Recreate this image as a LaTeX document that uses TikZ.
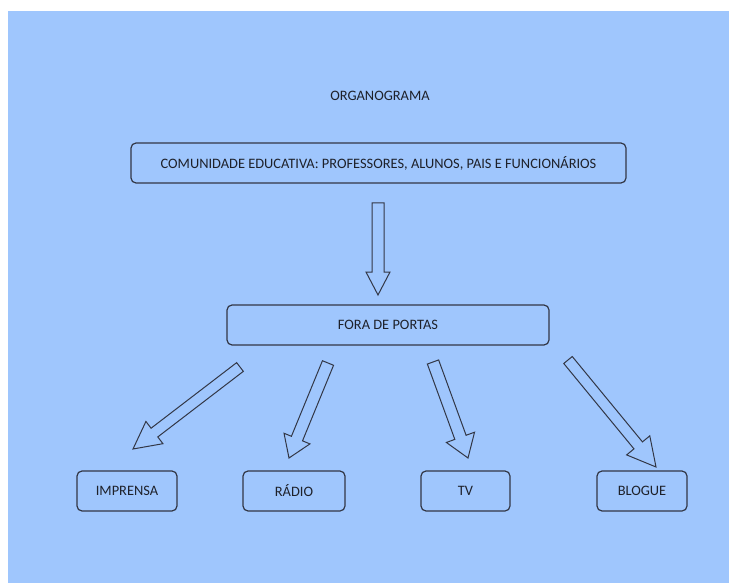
\documentclass[tikz,border=0pt]{standalone}
\usepackage{fontspec}
\setmainfont{Carlito}
\usetikzlibrary{calc}
\definecolor{bg}{RGB}{159,198,253}
\definecolor{ink}{RGB}{50,55,70}
\definecolor{txt}{RGB}{30,33,42}
\tikzset{
  x=1pt,y=-1pt,
  lbl/.style={font=\fontsize{14.4}{16}\selectfont,text=txt},
  box/.style={lbl,draw=ink,line width=1.2pt,rounded corners=5pt,inner sep=0pt},
  blockarrow/.style={draw=ink,line width=1pt,line join=miter}
}
% #1 tail, #2 tip, #3 shaft half-width, #4 head half-width, #5 head length (in pt)
\newcommand{\hollowarrow}[5]{%
  \coordinate (nk) at ($(#2)!#5pt!(#1)$);
  \draw[blockarrow] ($(#1)!#3pt!90:(#2)$) -- ($(nk)!#3pt!90:(#2)$) -- ($(nk)!#4pt!90:(#2)$)
    -- (#2) -- ($(nk)!#4pt!-90:(#2)$) -- ($(nk)!#3pt!-90:(#2)$) -- ($(#1)!#3pt!-90:(#2)$) -- cycle;
}
\begin{document}
\begin{tikzpicture}
\useasboundingbox (0,0) rectangle (729,583);
\fill[white] (0,0) rectangle (729,583);
\fill[bg] (8,11) rectangle (729,583);

\node[lbl] (title) at (380,96) {ORGANOGRAMA};

\node[box,minimum width=495pt,minimum height=40pt] (comunidade) at (378.5,163)
  {COMUNIDADE EDUCATIVA: PROFESSORES, ALUNOS, PAIS E FUNCIONÁRIOS};
\node[box,minimum width=322pt,minimum height=40pt] (fora) at (388,325) {FORA DE PORTAS};

\node[box,minimum width=100pt,minimum height=40pt] (imprensa) at (127,491) {IMPRENSA};
\node[box,minimum width=102pt,minimum height=40pt] (radio) at (294,491) {RÁDIO};
\node[box,minimum width=89pt,minimum height=40pt] (tv) at (465.5,491) {TV};
\node[box,minimum width=90pt,minimum height=40pt] (blogue) at (642,491) {BLOGUE};

\coordinate (t0) at (378,203);
\coordinate (h0) at (378,295);
\hollowarrow{t0}{h0}{6}{12}{23}

\coordinate (t1) at (240,367);
\coordinate (h1) at (133,449);
\hollowarrow{t1}{h1}{5.5}{14}{27}

\coordinate (t2) at (328,363);
\coordinate (h2) at (289,458);
\hollowarrow{t2}{h2}{6}{14}{21}

\coordinate (t3) at (433,362);
\coordinate (h3) at (468,458);
\hollowarrow{t3}{h3}{6}{15}{22}

\coordinate (t4) at (568,360);
\coordinate (h4) at (656,467);
\hollowarrow{t4}{h4}{5.5}{15}{28}
\end{tikzpicture}
\end{document}
